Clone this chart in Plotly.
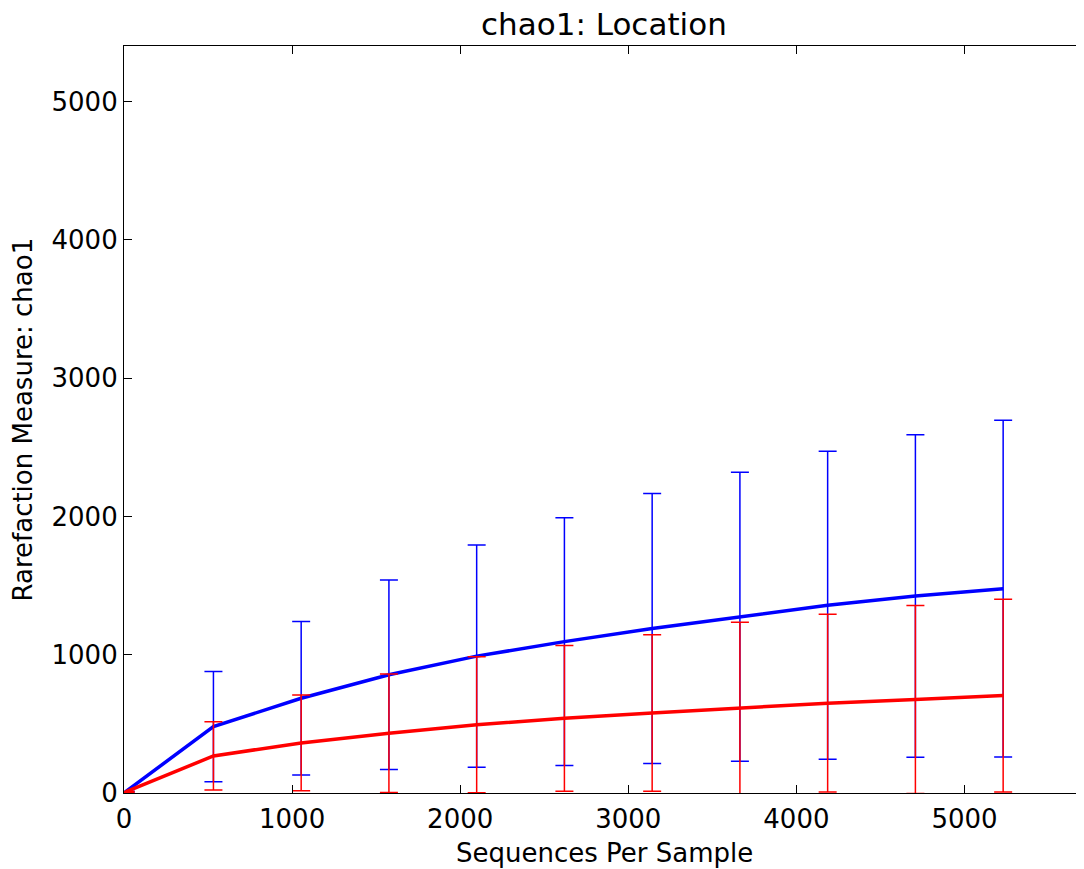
import plotly.graph_objects as go

# Data
depths = [10, 532, 1054, 1576, 2098, 2620, 3142, 3664, 4186, 4708, 5230]
blue_mean = [10, 480, 685, 855, 990, 1095, 1190, 1275, 1358, 1425, 1478]
blue_err = [2, 398, 555, 685, 804, 896, 977, 1045, 1113, 1166, 1218]
red_mean = [8, 268, 362, 432, 494, 540, 578, 615, 650, 676, 705]
red_err = [2, 247, 346, 428, 492, 527, 566, 620, 643, 680, 697]

x_ticks = [0, 1000, 2000, 3000, 4000, 5000]
y_ticks = [0, 1000, 2000, 3000, 4000, 5000]

FONT = "DejaVu Sans"

fig = go.Figure()
fig.add_trace(go.Scatter(
    x=depths, y=blue_mean, mode="lines", name="Location 1",
    line=dict(color="#0000ff", width=3.5),
    error_y=dict(type="data", array=blue_err, symmetric=True,
                 color="#0000ff", thickness=1.5, width=9),
))
fig.add_trace(go.Scatter(
    x=depths, y=red_mean, mode="lines", name="Location 2",
    line=dict(color="#ff0000", width=3.5),
    error_y=dict(type="data", array=red_err, symmetric=True,
                 color="#ff0000", thickness=1.5, width=9),
))

fig.update_layout(
    width=1076, height=861,
    margin=dict(l=116, r=0, t=38, b=76),
    paper_bgcolor="white", plot_bgcolor="white",
    showlegend=False,
    font=dict(family=FONT, size=26, color="#000000"),
    annotations=[
        dict(text="chao1: Location", x=0.5, xref="paper", y=1, yref="paper",
             yshift=22, xanchor="center", yanchor="middle", showarrow=False,
             font=dict(size=31, family=FONT, color="#000000")),
        dict(text="Sequences Per Sample", x=0.5, xref="paper", y=0, yref="paper",
             yshift=-60, xanchor="center", yanchor="middle", showarrow=False,
             font=dict(size=26, family=FONT, color="#000000")),
        dict(text="Rarefaction Measure: chao1", x=0, xref="paper", xshift=-102,
             xanchor="center", yanchor="middle",
             y=0.5, yref="paper", textangle=-90, showarrow=False,
             font=dict(size=26, family=FONT, color="#000000")),
    ],
)

fig.update_xaxes(
    range=[0, 5711], tickvals=x_ticks, ticktext=[str(v) for v in x_ticks],
    showgrid=False, zeroline=False,
    showline=True, linecolor="black", linewidth=1.2, mirror="ticks",
    ticks="inside", ticklen=8, tickcolor="black", tickwidth=1.2,
    ticklabelstandoff=3,
    tickfont=dict(size=26, family=FONT, color="#000000"),
)
fig.update_yaxes(
    range=[0, 5403], tickvals=y_ticks, ticktext=[str(v) for v in y_ticks],
    showgrid=False, zeroline=False,
    showline=True, linecolor="black", linewidth=1.2, mirror=False,
    ticks="inside", ticklen=8, tickcolor="black", tickwidth=1.2,
    tickfont=dict(size=26, family=FONT, color="#000000"),
)

fig.write_html("out.html")
